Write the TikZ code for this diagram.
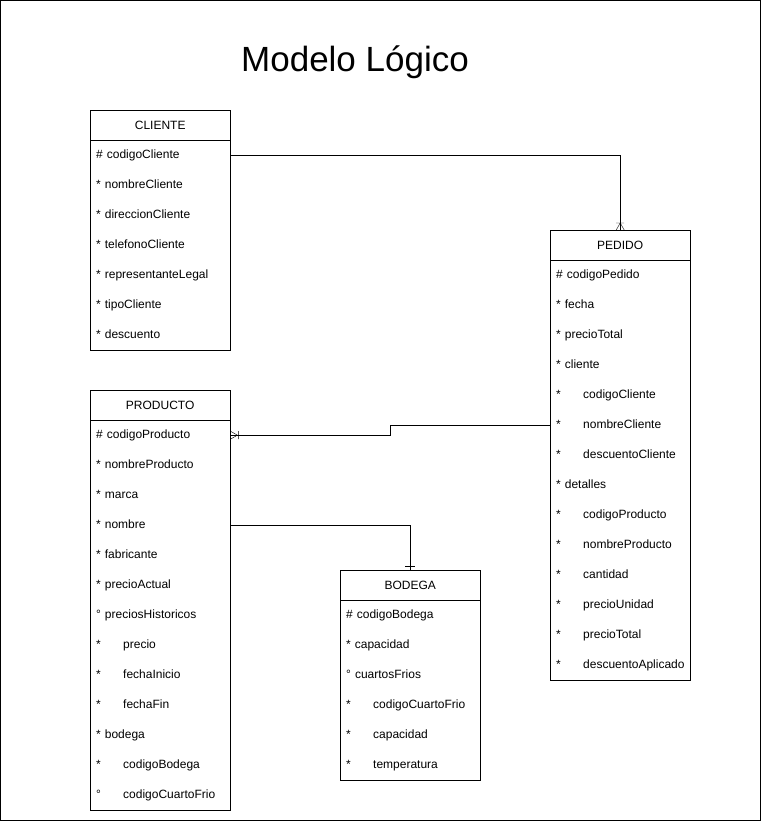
\documentclass[tikz,border=0pt]{standalone}
\usepackage{fontspec}
\setmainfont{Liberation Sans}
\usepackage{tikz}
\usetikzlibrary{calc}
\tikzset{
    entity-title/.style = {draw, thin, rectangle, minimum width=140pt, minimum height=30pt, inner sep=0pt, anchor=north west, font=\fontsize{12}{14}\selectfont},
    entity-row/.style = {rectangle, inner xsep=6pt, inner ysep=0pt, text width=128pt, text height=9pt, text depth=3pt, minimum height=30pt, anchor=north west, align=left, font=\fontsize{12}{14}\selectfont},
    link/.style = {thin},
}
\newcommand{\attr}[3]{\ifnum#3=0 #1 #2\else\makebox[27pt][l]{#1}#2\fi}

\begin{document}
\begin{tikzpicture}[x=1pt,y=-1pt]
\useasboundingbox (0,0) rectangle (761,821);
\draw[line width=1pt] (0.5,0.5) rectangle (760.5,820.5);

\node[font=\fontsize{35}{40}\selectfont] (title) at (355,62) {Modelo Lógico};

% CLIENTE
\node[entity-title] (cliente) at (90,110) {CLIENTE};
\draw (cliente.south west) rectangle ++(140,210);
\foreach \m/\t/\i [count=\k] in {\#/codigoCliente/0, */nombreCliente/0, */direccionCliente/0, */telefonoCliente/0, */representanteLegal/0, */tipoCliente/0, */descuento/0}
    \node[entity-row] (cliente-\k) at (90,110+30*\k) {\attr{\m}{\t}{\i}};

% PEDIDO
\node[entity-title] (pedido) at (550,230) {PEDIDO};
\draw (pedido.south west) rectangle ++(140,420);
\foreach \m/\t/\i [count=\k] in {\#/codigoPedido/0, */fecha/0, */precioTotal/0, */cliente/0, */codigoCliente/1, */nombreCliente/1, */descuentoCliente/1, */detalles/0, */codigoProducto/1, */nombreProducto/1, */cantidad/1, */precioUnidad/1, */precioTotal/1, */descuentoAplicado/1}
    \node[entity-row] (pedido-\k) at (550,230+30*\k) {\attr{\m}{\t}{\i}};

% PRODUCTO
\node[entity-title] (producto) at (90,390) {PRODUCTO};
\draw (producto.south west) rectangle ++(140,390);
\foreach \m/\t/\i [count=\k] in {\#/codigoProducto/0, */nombreProducto/0, */marca/0, */nombre/0, */fabricante/0, */precioActual/0, °/preciosHistoricos/0, */precio/1, */fechaInicio/1, */fechaFin/1, */bodega/0, */codigoBodega/1, °/codigoCuartoFrio/1}
    \node[entity-row] (producto-\k) at (90,390+30*\k) {\attr{\m}{\t}{\i}};

% BODEGA
\node[entity-title] (bodega) at (340,570) {BODEGA};
\draw (bodega.south west) rectangle ++(140,180);
\foreach \m/\t/\i [count=\k] in {\#/codigoBodega/0, */capacidad/0, °/cuartosFrios/0, */codigoCuartoFrio/1, */capacidad/1, */temperatura/1}
    \node[entity-row] (bodega-\k) at (340,570+30*\k) {\attr{\m}{\t}{\i}};

% relaciones
\draw[link] (cliente-1.east) -| (pedido.north);
\draw[link] ($(pedido.north)+(-4,0)$) -- ($(pedido.north)+(0,-7)$) -- ($(pedido.north)+(4,0)$)
    ($(pedido.north)+(-4,-7)$) -- ($(pedido.north)+(4,-7)$);

\draw[link] (pedido-6.west) -- ++(-160,0) |- (producto-1.east);
\draw[link] ($(producto-1.east)+(0,-4)$) -- ($(producto-1.east)+(7,0)$) -- ($(producto-1.east)+(0,4)$)
    ($(producto-1.east)+(8,-4)$) -- ($(producto-1.east)+(8,4)$);

\draw[link] (producto-4.east) -| (bodega.north);
\draw[link] ($(bodega.north)+(-5,-4)$) -- ($(bodega.north)+(5,-4)$);
\end{tikzpicture}
\end{document}
